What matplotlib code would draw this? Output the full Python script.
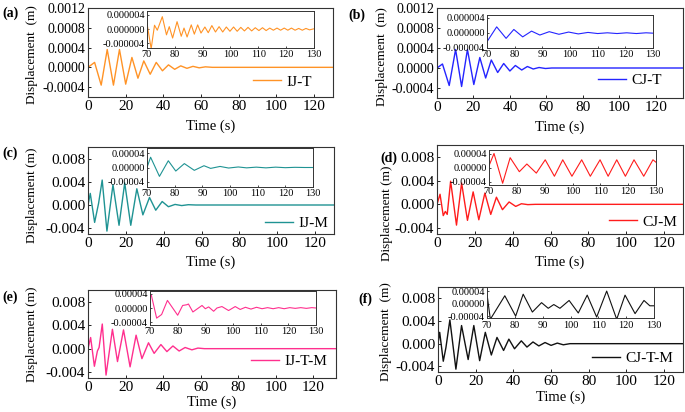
import matplotlib
matplotlib.use('Agg')
import matplotlib.pyplot as plt
from matplotlib.ticker import FormatStrFormatter

plt.rcParams['font.family'] = ['Liberation Serif', 'DejaVu Serif']
plt.rcParams['axes.unicode_minus'] = False

# ---------------- data (turning points of each trace) ----------------
# (a) IJ-T, main
t_ijt = [0, 3.5, 7, 10.2, 13.5, 16.7, 20, 23.3, 26.5, 29.6, 33, 36.2, 39.5, 42.7, 46, 49.2, 52.5, 55.7, 59, 62.3, 66, 130]
d_ijt = [0, 0.0001, -0.00036, 0.00036, -0.00036, 0.00036, -0.00034, 0.0002, -0.00022, 0.00013, -0.00014, 0.0001,
         -0.00007, 0.00005, -0.00004, 0.00003, -0.00002, 0.00002, -0.00001, 0.00001, 0, 0]
# (a) IJ-T, inset 70-130 s
ti_ijt = [70, 71.5, 72.7, 73.7, 75.5, 77, 78, 79.2, 80.8, 82.3, 83.3, 84.4, 85.9, 87, 88.2, 89.4, 90.8, 92, 93.3, 94.6,
          95.9, 97.2, 98.5, 99.8, 101.1, 102.4, 103.7, 105, 106.3, 107.6, 108.9, 110.2, 111.5, 112.8, 114.1, 115.4,
          116.7, 118, 119.3, 120.6, 121.9, 123.2, 124.5, 125.8, 127.1, 128.4, 130]
di_ijt = [1.6e-6, -5.5e-6, 1.1e-6, -0.3e-6, 3.5e-6, -1.6e-6, 0.7e-6, -2.5e-6, 2.1e-6, -2.0e-6, 0.3e-6, -2.2e-6,
          1.2e-6, -1.4e-6, 1.2e-6, -1.1e-6, 0.6e-6, -1.0e-6, 1.0e-6, -0.8e-6, 0.7e-6, -0.8e-6, 0.6e-6, -0.6e-6,
          0.6e-6, -0.6e-6, 0.5e-6, -0.5e-6, 0.5e-6, -0.5e-6, 0.4e-6, -0.4e-6, 0.4e-6, -0.4e-6, 0.3e-6, -0.3e-6,
          0.3e-6, -0.3e-6, 0.3e-6, -0.3e-6, 0.3e-6, -0.3e-6, 0.2e-6, -0.3e-6, 0.2e-6, -0.2e-6, 0.1e-6]

# (b) CJ-T
t_cjt = [0, 3, 6.7, 10.2, 13.5, 16.7, 20.2, 23.5, 26.7, 29.8, 33.3, 36.6, 40, 43, 46.5, 49.6, 52.8, 56, 59.5, 63, 135]
d_cjt = [0, 0.00008, -0.00035, 0.00037, -0.00037, 0.00037, -0.00033, 0.00021, -0.0002, 0.00016, -0.00009, 0.00009,
         -0.00006, 0.00005, -0.00004, 0.00003, -0.00002, 0.00001, -0.00001, 0, 0]
ti_cjt = [70, 73.5, 76.9, 79.7, 82.9, 86.1, 89.1, 92.5, 96, 99.5, 103, 106.5, 110, 113.5, 117, 120.5, 124, 127.5, 130]
di_cjt = [-2.4e-6, 1.6e-6, -1.5e-6, 0.9e-6, -1.1e-6, 0.45e-6, -0.6e-6, 0.3e-6, -0.4e-6, 0.2e-6, -0.3e-6, 0.1e-6,
          -0.2e-6, 0.0, -0.2e-6, 0.0, -0.2e-6, 0.0, -0.1e-6]

# (c) IJ-M
t_ijm = [0, 1.2, 3.5, 5.6, 7.5, 10, 13.2, 16.4, 19.4, 22.6, 25.8, 29, 32.5, 35.8, 39.2, 42.5, 46, 49.5, 53, 57, 130]
d_ijm = [0, 0.002, -0.003, 0.0003, 0.0043, -0.0045, 0.0035, -0.0035, 0.0038, -0.0035, 0.0028, -0.0017, 0.0013,
         -0.0009, 0.0006, -0.0003, 0.0001, -0.0001, 0.00005, 0, 0]
ti_ijm = [70, 71.3, 74.5, 77.7, 80.4, 83.5, 87.1, 90.6, 93, 96.4, 99.5, 103, 106, 109.5, 113, 116.5, 120, 123.5, 127, 130]
di_ijm = [0, 2.9e-5, -2.5e-5, 1.9e-5, -1.0e-5, 1.1e-5, -0.8e-5, 0.5e-5, -0.25e-5, 0.3e-5, -0.15e-5, 0.15e-5,
          -0.1e-5, 0.1e-5, -0.1e-5, 0.1e-5, -0.05e-5, 0.05e-5, 0, 0]

# (d) CJ-M
t_cjm = [0, 1.6, 3.3, 4.4, 5.4, 7.2, 10.3, 13, 16.1, 19.1, 22.1, 25.3, 28.4, 31.4, 34.6, 38.1, 41.6, 44.6, 48, 52, 130]
d_cjm = [0, 0.0017, -0.0019, -0.0012, -0.0017, 0.0039, -0.0035, 0.0036, -0.0027, 0.0021, -0.0026, 0.0019, -0.0017,
         0.0012, -0.0009, 0.0004, -0.00035, 0.0001, -0.00005, 0, 0]
ti_cjm = [70, 71.8, 74.9, 77.6, 80.9, 83.6, 87, 90.2, 93.5, 96.5, 99.8, 103.3, 106.4, 109.9, 112.8, 115.9, 119, 122.1,
          125.6, 128.9, 130]
di_cjm = [0.5e-5, 4.0e-5, -4.5e-5, 2.8e-5, -1.2e-5, 1.0e-5, -1.6e-5, 2.2e-5, -2.5e-5, 2.2e-5, -2.5e-5, 2.2e-5,
          -2.5e-5, 2.2e-5, -2.5e-5, 2.2e-5, -2.5e-5, 2.2e-5, -2.5e-5, 2.2e-5, 1.5e-5]

# (e) IJ-T-M
t_ijtm = [0, 1.4, 3.4, 5.0, 5.9, 7.6, 9.6, 13, 15.7, 18.9, 22.4, 25.6, 28.7, 32.2, 35.2, 38.8, 42, 45.2, 48.5, 51.7,
          55.3, 58.5, 62, 132]
d_ijtm = [0, 0.0019, -0.003, -0.0004, 0.0002, 0.0042, -0.0045, 0.0033, -0.0022, 0.0032, -0.0031, 0.0023, -0.0017,
          0.001, -0.0008, 0.0007, -0.0005, 0.00046, -0.0004, 0.0002, -0.0002, 0.0001, 0, 0]
ti_ijtm = [70, 70.5, 72.4, 74.2, 76.3, 80, 81.8, 83.3, 83.9, 85.5, 88.8, 90, 91.2, 93, 94.2, 96, 98.4, 100.8, 102.6,
           104.5, 106.5, 108.5, 110.5, 112.5, 114.5, 116.5, 118.5, 120.5, 122.5, 124.5, 126.5, 128.5, 130]
di_ijtm = [3.3e-5, 3.5e-5, -2.8e-5, -1.8e-5, 2.1e-5, -2.0e-5, 0.7e-5, 0.9e-5, 1.1e-5, -1.1e-5, 0.7e-5, -0.2e-5,
           0.3e-5, -0.9e-5, 0, 0.4e-5, -0.7e-5, 0.4e-5, -0.4e-5, 0.2e-5, -0.3e-5, 0.2e-5, -0.2e-5, 0.1e-5, -0.2e-5,
           0.1e-5, -0.2e-5, 0.1e-5, -0.1e-5, 0.1e-5, -0.1e-5, 0.1e-5, 0]

# (f) CJ-T-M
t_cjtm = [0, 0.9, 2.8, 4.2, 6.3, 9.5, 12.5, 16, 19, 22.1, 25.1, 28.3, 31.3, 34.8, 37.6, 40.6, 44.2, 47.2, 50.4, 53.5,
          56.8, 60, 63.3, 66.5, 70, 130]
d_cjtm = [0, 0.002, -0.0031, -0.0007, 0.0042, -0.0045, 0.0032, -0.0028, 0.0032, -0.003, 0.002, -0.002, 0.0011,
          -0.0012, 0.0008, -0.0009, 0.0005, -0.0006, 0.0003, -0.0004, 0.0002, -0.0003, 0.0001, -0.0002, 0, 0]
ti_cjtm = [70, 71.2, 76.4, 80.3, 83, 86.3, 89.6, 92, 94, 96.2, 99.5, 102.8, 106, 109.4, 113, 116.6, 119.6, 123.2,
           126.4, 128.5, 130]
di_cjtm = [3.0e-5, -5.0e-5, 2.5e-5, -4.0e-5, 3.0e-5, -2.7e-5, 0.3e-5, -1.5e-5, -0.3e-5, -1.5e-5, 1.0e-5, -3.0e-5,
           2.7e-5, -4.3e-5, 4.0e-5, -5.0e-5, 2.7e-5, -3.2e-5, 1.0e-5, -0.7e-5, -0.7e-5]

labels = ['IJ-T', 'CJ-T', 'IJ-M', 'CJ-M', 'IJ-T-M', 'CJ-T-M']
tags = ['(a)', '(b)', '(c)', '(d)', '(e)', '(f)']
colors = ['#FF9326', '#2424FF', '#1F9393', '#FF1C1C', '#FF2F8E', '#111111']

W, H = 685, 412


def rect(x0, y0, x1, y1):
    return [x0 / W, 1 - y1 / H, (x1 - x0) / W, (y1 - y0) / H]


fig = plt.figure(figsize=(6.85, 4.12), dpi=100)


def style(ax, lw=0.8):
    for s in ax.spines.values():
        s.set_linewidth(lw)
        s.set_color('#333333')


def panel(i, t, d, ti, di, box, ibox, xmax, yl, yt, yfmt, iyl, iyt, iyfmt,
          ylab, ylab_xy, tick_fs, leg_xy, tag_xy, xlab_y, ixpad=1.5):
    ax = fig.add_axes(rect(*box))
    ax.plot(t, d, color=colors[i], lw=1.0, label=labels[i])
    ax.set_xlim(0, xmax)
    ax.set_ylim(*yl)
    ax.set_xticks([0, 20, 40, 60, 80, 100, 120])
    ax.set_yticks(yt)
    ax.yaxis.set_major_formatter(FormatStrFormatter(yfmt))
    ax.tick_params(direction='in', length=2, width=0.6, pad=2, labelsize=tick_fs)
    ax.tick_params(axis='x', labelsize=11)
    style(ax)
    ax.legend(loc='center right', bbox_to_anchor=leg_xy, frameon=False, fontsize=11,
              handlelength=1.85, handletextpad=0.35, borderpad=0, borderaxespad=0)

    cx = (box[0] + box[2]) / 2
    fig.text(ylab_xy[0] / W, 1 - ylab_xy[1] / H, ylab, rotation=90, ha='center', va='center', fontsize=9.5)
    fig.text(cx / W, 1 - xlab_y / H, 'Time (s)', ha='center', va='center', fontsize=10.5)
    fig.text(tag_xy[0] / W, 1 - tag_xy[1] / H, tags[i], ha='left', va='center',
             fontsize=10, fontweight='bold')

    ins = fig.add_axes(rect(*ibox))
    ins.plot(ti, di, color=colors[i], lw=0.8)
    ins.set_xlim(70, 130)
    ins.set_ylim(*iyl)
    ins.set_xticks([70, 80, 90, 100, 110, 120, 130])
    ins.set_yticks(iyt)
    ins.yaxis.set_major_formatter(FormatStrFormatter(iyfmt))
    ins.tick_params(direction='in', length=1.5, width=0.5, pad=1.5, labelsize=7.5)
    ins.tick_params(axis='x', pad=ixpad)
    style(ins, 0.7)
    return ax


small_t = [-0.0004, 0.0, 0.0004, 0.0008, 0.0012]
big_t = [-0.004, 0.0, 0.004, 0.008]

panel(0, t_ijt, d_ijt, ti_ijt, di_ijt, (88, 8, 333, 97), (147, 11, 314, 48), 130,
      (-0.0006, 0.0012), small_t, '%.4f', (-5.3e-6, 5.1e-6), [-4e-6, 0, 4e-6], '%.6f',
      'Displacement  (m)', (32, 55), 10, (0.914, 0.17), (2, 13), 126)
panel(1, t_cjt, d_cjt, ti_cjt, di_cjt, (437, 8, 683, 98), (487, 15, 653, 48), 135,
      (-0.0006, 0.0012), small_t, '%.4f', (-4.1e-6, 4.8e-6), [-4e-6, 0, 4e-6], '%.6f',
      'Displacement  (m)', (382, 57), 10, (0.915, 0.2), (348, 15), 127)
panel(2, t_ijm, d_ijm, ti_ijm, di_ijm, (88, 147, 334, 234), (147, 148, 313, 187), 130,
      (-0.005, 0.010), big_t, '%.3f', (-5.5e-5, 5.5e-5), [-4e-5, 0, 4e-5], '%.5f',
      'Displacement (m)', (32, 195), 11, (0.976, 0.126), (2, 153), 262)
panel(3, t_cjm, d_cjm, ti_cjm, di_cjm, (437, 145, 683, 234), (489, 150, 656, 185), 130,
      (-0.005, 0.010), big_t, '%.3f', (-5e-5, 5e-5), [-4e-5, 0, 4e-5], '%.5f',
      'Displacement (m)', (387, 213), 11, (0.976, 0.135), (380, 158), 262)
panel(4, t_ijtm, d_ijtm, ti_ijtm, di_ijtm, (88, 290, 336, 378), (150, 291, 316, 325), 132,
      (-0.005, 0.010), big_t, '%.3f', (-4.7e-5, 4.7e-5), [-4e-5, 0, 4e-5], '%.5f',
      'Displacement (m)', (32, 334), 11, (0.964, 0.19), (2, 297), 402)
panel(5, t_cjtm, d_cjtm, ti_cjtm, di_cjtm, (438, 287, 683, 372), (487, 287, 654, 318), 130,
      (-0.005, 0.010), big_t, '%.3f', (-4.6e-5, 5.3e-5), [-4e-5, 0, 4e-5], '%.5f',
      'Displacement  (m)', (386, 332), 11, (0.96, 0.16), (358, 299), 397, ixpad=2.5)

fig.savefig('out.png', dpi=100)
